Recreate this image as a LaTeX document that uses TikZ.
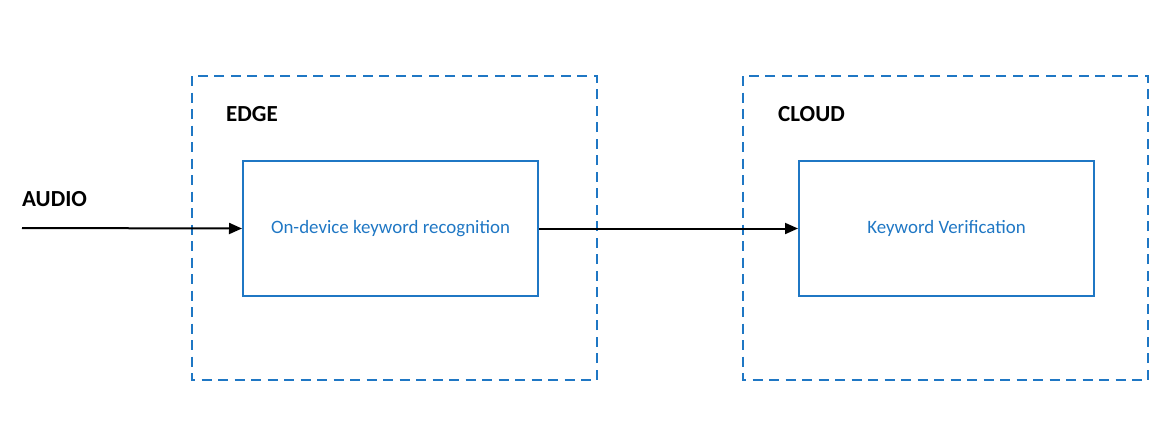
\documentclass[tikz,border=0pt]{standalone}
\usepackage{fontspec}
\setmainfont{Carlito}
\usetikzlibrary{arrows.meta}
\definecolor{oblue}{HTML}{1F77C4}
\begin{document}
\begin{tikzpicture}[x=1pt,y=-1pt,
  zone/.style={draw=oblue,line width=2pt,dash pattern=on 10pt off 6.5pt},
  proc/.style={draw=oblue,line width=2pt,text=oblue,font=\fontsize{18.9}{22}\selectfont},
  lbl/.style={font=\bfseries\fontsize{23}{26}\selectfont,anchor=base west,inner sep=0pt},
  flow/.style={line width=2pt,-{Triangle[length=13pt,width=11pt]}}]
\useasboundingbox (0,0) rectangle (1166,424);
\draw[zone] (192,76) rectangle (597,380);
\draw[zone] (743,76) rectangle (1148,380);
\node[proc,minimum width=295pt,minimum height=135pt,anchor=north west,inner sep=0pt] (ondev) at (242,160) {On-device keyword recognition};
\node[proc,minimum width=295pt,minimum height=135pt,anchor=north west,inner sep=0pt] (verif) at (798,160) {Keyword Verification};
\coordinate (src) at (22,228);
\node[lbl] (audio) at (22,206) {AUDIO};
\node[lbl] (edge) at (226,121) {EDGE};
\node[lbl] (cloud) at (778,121) {CLOUD};
\draw[flow] (src) -- (ondev.west);
\draw[flow] (ondev.east) -- (verif.west);
\end{tikzpicture}
\end{document}
